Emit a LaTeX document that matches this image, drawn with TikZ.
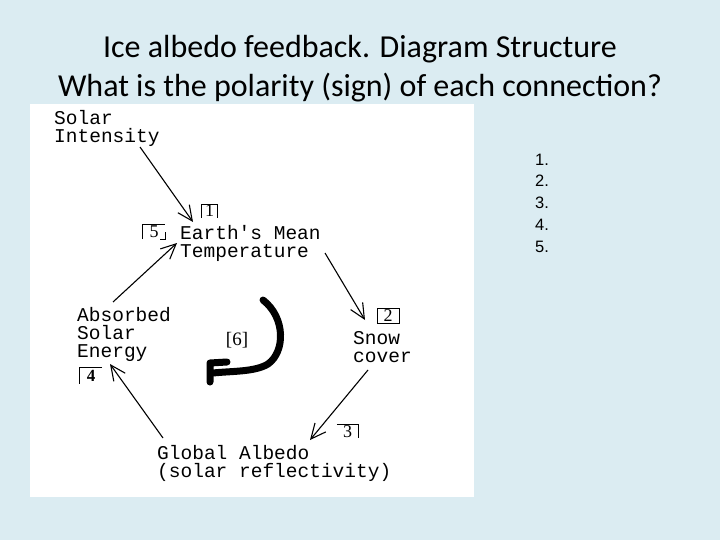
\documentclass[tikz,border=0pt]{standalone}
\usepackage{fontspec}
\setmainfont{Carlito}
\newfontfamily\sketchfont{Liberation Mono}
\newfontfamily\numfont{Liberation Serif}
\newfontfamily\listfont{Liberation Sans}
\usetikzlibrary{arrows.meta,positioning,calc}
\definecolor{fbSlide}{RGB}{219,236,242}
\definecolor{fbPaper}{HTML}{FFFFFF}
\definecolor{fbInk}{HTML}{000000}
\tikzset{
    fbText/.style={
        anchor=base west,
        inner sep=0pt,
        align=left,
        font=\fontsize{19.5}{18}\selectfont\sketchfont,
        text=fbInk
    },
    fbNum/.style={
        inner sep=0pt,
        minimum width=22pt,
        minimum height=14pt,
        font=\fontsize{18}{18}\selectfont\numfont
    },
    % Frames round the numbers
    fbFrame/.style={draw=fbInk, line width=1pt},
    % Arrows
    fbArrow/.style={-{Straight Barb[length=15pt, width=14pt]}, line width=1.1pt, draw=fbInk},
    fbLoop/.style={line width=7pt, line cap=round, line join=round, draw=fbInk}
}
\begin{document}
\begin{tikzpicture}[x=1pt, y=-1pt]
\fill[fbSlide] (0,0) rectangle (720,540);
\fill[fbPaper] (29.5,104) rectangle (474,497);
\node[font=\fontsize{32}{39}\selectfont, align=center, anchor=base, inner sep=0pt] (title) at (360,97) {Ice albedo feedback. Diagram Structure\\What is the polarity (sign) of each connection?};
\node[font=\fontsize{16.5}{21.7}\selectfont\listfont, align=left, anchor=base west, inner sep=0pt] (answers) at (535,252) {1.\\2.\\3.\\4.\\5.};

% the loop
\node[fbText] (solar) at (54,143) {Solar\\Intensity};
\node[fbText] (earth) at (180,258) {Earth\textquotesingle s Mean\\Temperature};
\node[fbText] (snow) at (353,362) {Snow\\cover};
\node[fbText] (albedo) at (157,477) {Global Albedo\\(solar reflectivity)};
\node[fbText] (absorbed) at (77,357) {Absorbed\\Solar\\Energy};

\draw[fbArrow] ([shift={(86,4)}]solar.base west) -- ([shift={(13,-36)}]earth.base west);
\draw[fbArrow] ([shift={(145,-5)}]earth.base west) -- ([shift={(12,-42)}]snow.base west);
\draw[fbArrow] ([shift={(15,8)}]snow.base west) -- ([shift={(153,-37)}]albedo.base west);
\draw[fbArrow] ([shift={(6,-39)}]albedo.base west) -- ([shift={(33,7)}]absorbed.base west);
\draw[fbArrow] ([shift={(36,-55)}]absorbed.base west) -- ([shift={(-3,-15)}]earth.base west);

% numbers
\node[fbNum, minimum width=15pt, minimum height=13pt] (numOne) at (209.5,211) {1};
\draw[fbFrame] (numOne.south west) |- (numOne.north east) -- (numOne.south east);
\node[fbNum, fbFrame, minimum height=15pt] (numTwo) at (388,315.5) {2};
\node[fbNum, minimum width=21pt, minimum height=13pt] (numThree) at (347.5,431.5) {3};
\draw[fbFrame] (numThree.north west) -| (numThree.south east);
\node[fbNum, minimum height=16pt, font=\fontsize{17}{17}\selectfont\numfont\bfseries] (numFour) at (91,376) {4};
\draw[fbFrame] (numFour.north east) -| (numFour.south west);
\node[fbNum] (numFive) at (154,232) {5};
\draw[fbFrame] (numFive.south west) |- (numFive.north east);
\draw[fbFrame] ([xshift=-5pt]numFive.south east) -| (numFive.east);
\node[font=\fontsize{19}{19}\selectfont\numfont, inner sep=0pt] (numSix) at (237,340) {[6]};

\coordinate (loopTip) at (210,363);
\draw[fbLoop] (263,300) .. controls (286,318) and (285,352) .. (268,364) .. controls (255,372) and (232,371) .. (213,373);
\draw[fbLoop] (227,362) -- (loopTip) -- (210,382);
\end{tikzpicture}
\end{document}
